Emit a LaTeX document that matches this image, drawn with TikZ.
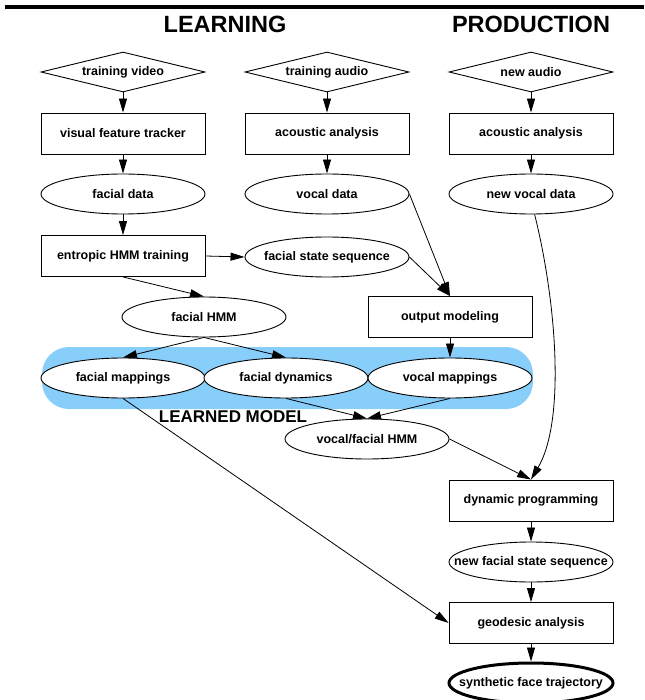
\documentclass[tikz,border=0pt]{standalone}
\usepackage{fontspec}
\setmainfont{Liberation Sans}
\usetikzlibrary{shapes.geometric,arrows.meta}
\definecolor{skyb}{RGB}{135,206,250}
\newcommand\mklab[1]{\makebox[0pt]{#1}}
\begin{document}
\begin{tikzpicture}[x=1pt,y=-1pt,
  every node/.style={font=\fontsize{12.5}{14}\selectfont\bfseries, inner sep=0pt},
  procbox/.style={draw, line width=0.9pt, rectangle, minimum width=164pt, minimum height=41pt, fill=white},
  dataell/.style={draw, line width=0.9pt, ellipse, minimum width=164pt, minimum height=40pt, fill=white},
  inputdia/.style={draw, line width=0.9pt, diamond, aspect=4, minimum width=164pt, minimum height=40pt, fill=white},
  arr/.style={-{Triangle[length=14pt,width=8pt]}, line width=0.8pt},
  title/.style={font=\fontsize{23.5}{26}\selectfont\bfseries}]
\useasboundingbox (0,0) rectangle (644,700);

% top rule
\draw[line width=4.2pt] (5,7) -- (644,7);

% titles
\node[title] (tlearn) at (225,24) {LEARNING};
\node[title] (tprod) at (531,24) {PRODUCTION};

% learned model background
\node[fill=skyb, rounded corners=27pt, minimum width=491pt, minimum height=62pt] (bg) at (287.5,378) {};
\node[font=\fontsize{17}{19}\selectfont\bfseries] (lmlab) at (233,417) {LEARNED MODEL};

% column A
\node[inputdia] (d1) at (123,72) {\mklab{training video}};
\node[procbox] (b1) at (123,133.5) {\mklab{visual feature tracker}};
\node[dataell] (e1) at (123,194) {\mklab{facial data}};
\node[procbox] (ent) at (123,256) {\mklab{entropic HMM training}};

% column B
\node[inputdia] (d2) at (327,72) {\mklab{training audio}};
\node[procbox] (b2) at (327,133.5) {\mklab{acoustic analysis}};
\node[dataell] (e2) at (327,194) {\mklab{vocal data}};
\node[dataell] (fss) at (327,257) {\mklab{facial state sequence}};

% column C
\node[inputdia] (d3) at (531,72) {\mklab{new audio}};
\node[procbox] (b3) at (531,133.5) {\mklab{acoustic analysis}};
\node[dataell] (e3) at (531,194) {\mklab{new vocal data}};

% middle
\node[dataell] (fhmm) at (204,317) {\mklab{facial HMM}};
\node[procbox] (om) at (450,317) {\mklab{output modeling}};

% learned model row
\node[dataell] (fm) at (123,378) {\mklab{facial mappings}};
\node[dataell] (fd) at (286,378) {\mklab{facial dynamics}};
\node[dataell] (vm) at (450,378) {\mklab{vocal mappings}};

\node[dataell] (vfh) at (367,439) {\mklab{vocal/facial HMM}};

% production chain
\node[procbox] (dp) at (531,500.5) {\mklab{dynamic programming}};
\node[dataell] (nfss) at (531,562) {\mklab{new facial state sequence}};
\node[procbox] (geo) at (531,623) {\mklab{geodesic analysis}};
\node[dataell, line width=3pt] (syn) at (531,683) {\mklab{synthetic face trajectory}};

% connectors
\draw[arr] (d1) -- (b1);
\draw[arr] (d2) -- (b2);
\draw[arr] (d3) -- (b3);
\draw[arr] (b1) -- (e1);
\draw[arr] (b2) -- (e2);
\draw[arr] (b3) -- (e3);
\draw[arr] (e1) -- (ent);
\draw[arr] (ent.east) -- (fss.west);
\draw[arr] (ent.south) -- (fhmm.north);
\draw[arr] (e2.east) -- (om.north);
\draw[arr] (fss.east) -- (om.north);
\draw[arr] (fhmm.south) -- (fm.north);
\draw[arr] (fhmm.south) -- (fd.north);
\draw[arr] (om.south) -- (vm.north);
\draw[arr] (fd.south) -- (vfh.north);
\draw[arr] (vm.south) -- (vfh.north);
\draw[arr] (vfh.east) -- (dp.north);
\draw[arr] (e3.-80) .. controls (556,300) and (566,420) .. (dp.north);
\draw[arr] (fm.south) -- (geo.west);
\draw[arr] (dp) -- (nfss);
\draw[arr] (nfss) -- (geo);
\draw[arr] (geo) -- (syn);
\end{tikzpicture}
\end{document}
